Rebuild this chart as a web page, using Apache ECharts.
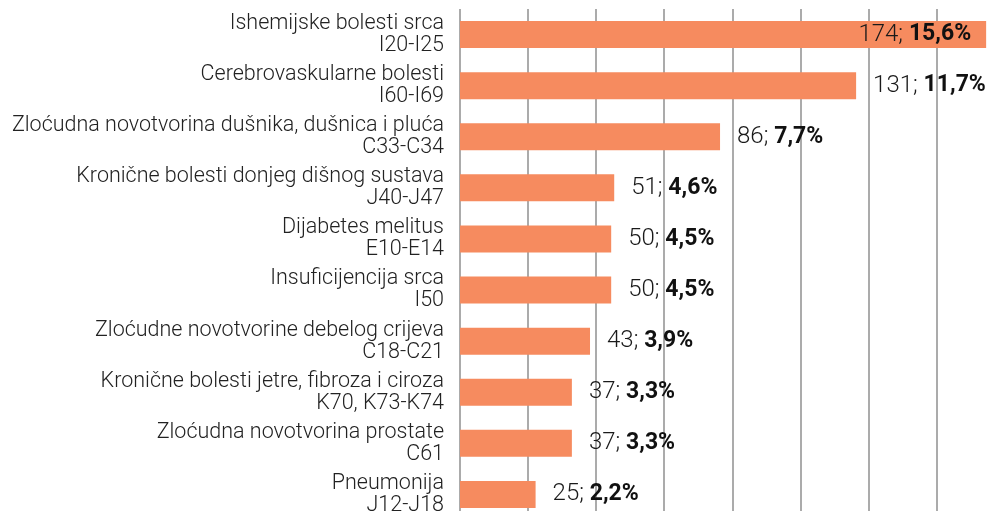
<!DOCTYPE html>
<html>
<head>
<meta charset="utf-8">
<script src="https://cdn.jsdelivr.net/npm/echarts@6/dist/echarts.min.js"></script>
<style>
html,body{margin:0;padding:0;background:#fff;}
#chart{width:989px;height:511px;}
</style>
</head>
<body>
<div id="chart"></div>
<script>
const categories = [
  "Ishemijske bolesti srca",
  "Cerebrovaskularne bolesti",
  "Zloćudna novotvorina dušnika, dušnica i pluća",
  "Kronične bolesti donjeg dišnog sustava",
  "Dijabetes melitus",
  "Insuficijencija srca",
  "Zloćudne novotvorine debelog crijeva",
  "Kronične bolesti jetre, fibroza i ciroza",
  "Zloćudna novotvorina prostate",
  "Pneumonija"
];
const codes = ["I20-I25","I60-I69","C33-C34","J40-J47","E10-E14","I50","C18-C21","K70, K73-K74","C61","J12-J18"];
const counts = [174, 131, 86, 51, 50, 50, 43, 37, 37, 25];
const percents = ["15,6%","11,7%","7,7%","4,6%","4,5%","4,5%","3,9%","3,3%","3,3%","2,2%"];

const labels = categories.map((c, i) => c + "\n" + codes[i]);
const FONT = "Roboto";

const chart = echarts.init(document.getElementById('chart'), null, {renderer: 'canvas'});
const data = counts.map((v, i) => {
  const d = {value: v};
  if (i === 0) {
    d.label = {position: 'insideRight', distance: 15};
  }
  return d;
});

chart.setOption({
  animation: false,
  backgroundColor: '#ffffff',
  grid: {left: 460, top: 9, width: 534, height: 511, containLabel: false, outerBoundsMode: 'none'},
  xAxis: {
    type: 'value',
    min: 0,
    max: 176.6,
    interval: 22.51,
    axisLine: {show: false},
    axisTick: {show: false},
    axisLabel: {show: false},
    splitLine: {show: true, lineStyle: {color: '#8f8f8f', width: 1.5}}
  },
  yAxis: {
    type: 'category',
    data: labels,
    inverse: true,
    axisLine: {show: false},
    axisTick: {show: false},
    axisLabel: {
      margin: 16,
      fontFamily: FONT,
      fontWeight: 300,
      fontSize: 21.5,
      lineHeight: 22,
      color: '#222',
      align: 'right'
    }
  },
  series: [{
    type: 'bar',
    data: data,
    barWidth: 27,
    itemStyle: {color: '#F68B5F'},
    label: {
      show: true,
      position: 'right',
      distance: 17,
      formatter: p => '{a|' + counts[p.dataIndex] + '; }{b|' + percents[p.dataIndex] + '}',
      rich: {
        a: {fontFamily: FONT, fontWeight: 300, fontSize: 24, color: '#1a1a1a'},
        b: {fontFamily: FONT, fontWeight: 'bold', fontSize: 23, color: '#111'}
      }
    }
  }]
});
</script>
</body>
</html>
